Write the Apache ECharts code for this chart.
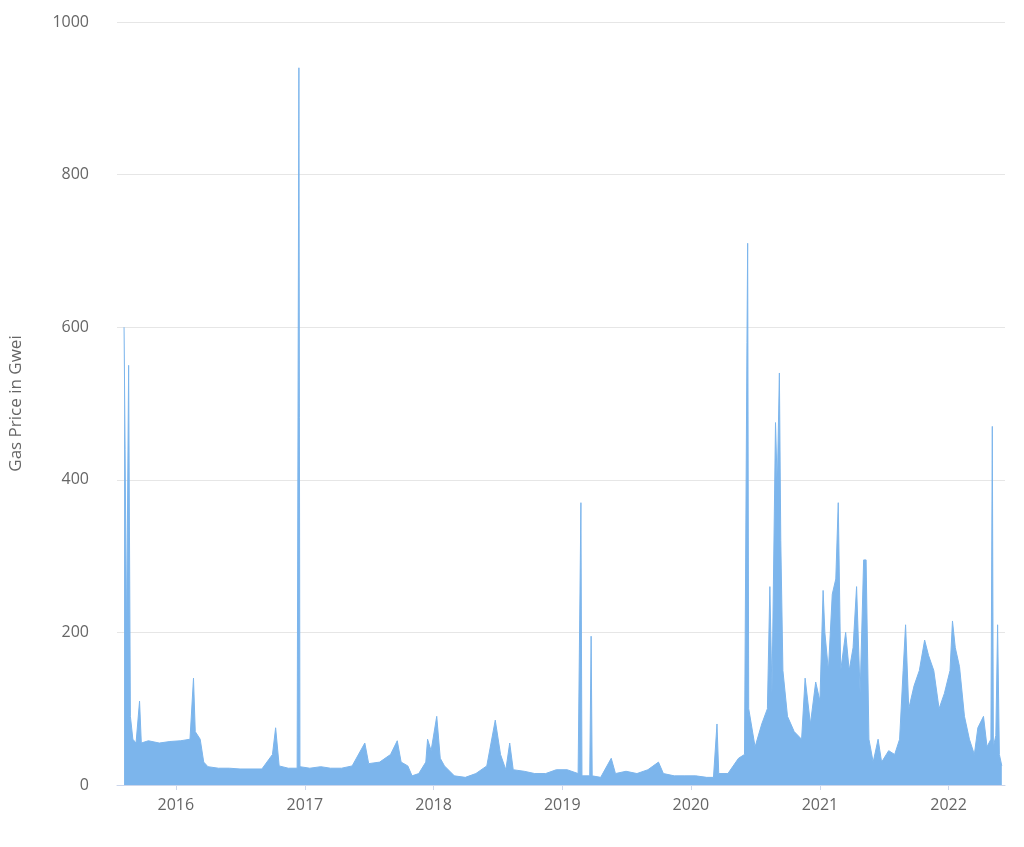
<!DOCTYPE html>
<html><head><meta charset="utf-8">
<script src="https://cdn.jsdelivr.net/npm/echarts@6/dist/echarts.min.js"></script>
<style>html,body{margin:0;background:#fff}#c{width:1024px;height:847px}</style>
</head><body><div id="c"></div>
<script>
const dates = ["2015-08-07","2015-08-10","2015-08-14","2015-08-20","2015-08-25","2015-09-01","2015-09-10","2015-09-20","2015-09-25","2015-10-15","2015-11-15","2015-12-15","2016-01-15","2016-02-10","2016-02-20","2016-02-25","2016-03-10","2016-03-20","2016-04-01","2016-05-01","2016-06-01","2016-07-01","2016-08-01","2016-09-01","2016-10-01","2016-10-10","2016-10-20","2016-11-15","2016-12-10","2016-12-15","2016-12-18","2017-01-15","2017-02-15","2017-03-15","2017-04-15","2017-05-15","2017-06-20","2017-07-01","2017-08-01","2017-09-01","2017-09-20","2017-10-01","2017-10-20","2017-11-01","2017-11-20","2017-12-10","2017-12-15","2017-12-25","2018-01-10","2018-01-20","2018-02-01","2018-03-01","2018-04-01","2018-05-01","2018-06-01","2018-06-25","2018-07-10","2018-07-25","2018-08-05","2018-08-15","2018-09-15","2018-10-15","2018-11-15","2018-12-15","2019-01-15","2019-02-15","2019-02-23","2019-02-26","2019-03-20","2019-03-24","2019-03-27","2019-04-20","2019-05-20","2019-06-01","2019-07-01","2019-08-01","2019-09-01","2019-10-01","2019-10-15","2019-11-15","2019-12-15","2020-01-15","2020-02-15","2020-03-05","2020-03-15","2020-03-20","2020-04-15","2020-05-15","2020-06-01","2020-06-08","2020-06-10","2020-06-13","2020-07-01","2020-07-20","2020-08-05","2020-08-12","2020-08-18","2020-08-28","2020-09-02","2020-09-08","2020-09-12","2020-09-18","2020-10-01","2020-10-20","2020-11-10","2020-11-20","2020-12-05","2020-12-20","2021-01-01","2021-01-10","2021-01-15","2021-01-25","2021-02-05","2021-02-15","2021-02-22","2021-03-01","2021-03-15","2021-03-25","2021-04-05","2021-04-15","2021-04-25","2021-05-05","2021-05-12","2021-05-20","2021-06-01","2021-06-15","2021-06-25","2021-07-15","2021-08-01","2021-08-15","2021-08-25","2021-09-01","2021-09-10","2021-09-25","2021-10-10","2021-10-25","2021-11-05","2021-11-20","2021-12-05","2021-12-20","2022-01-05","2022-01-12","2022-01-20","2022-02-01","2022-02-15","2022-03-01","2022-03-15","2022-03-25","2022-04-10","2022-04-20","2022-05-01","2022-05-05","2022-05-08","2022-05-15","2022-05-20","2022-05-25","2022-06-01"];
const gasPrice = [600,440,190,550,90,60,55,110,55,58,55,57,58,60,140,70,60,30,24,22,22,21,21,21,40,75,25,22,22,940,24,22,24,22,22,25,55,28,30,40,58,30,25,12,15,30,60,45,90,35,25,12,10,15,25,85,40,20,55,20,18,15,15,20,20,15,370,12,12,195,12,10,35,15,18,15,20,30,15,12,12,12,10,10,80,15,15,35,40,580,710,100,50,80,100,260,120,475,390,540,320,150,90,70,60,140,80,135,110,255,200,150,250,270,370,150,200,150,180,260,120,295,295,60,30,60,30,45,40,60,150,210,100,130,150,190,170,150,100,120,150,215,180,155,90,60,40,75,90,50,60,470,50,65,210,40,25];
const data = dates.map((d,i)=>[d,gasPrice[i]]);
const chart = echarts.init(document.getElementById('c'));
chart.setOption({
  animation:false,
  grid:{left:115,right:19,top:22,bottom:62},
  xAxis:{type:'time',min:'2015-07-18',max:'2022-06-10',
    axisLine:{lineStyle:{color:'#ccd6eb'}},axisTick:{show:true,lineStyle:{color:'#ccd6eb'}},
    splitLine:{show:false},
    axisLabel:{color:'#666',fontSize:16,fontFamily:'Open Sans',formatter:'{yyyy}',margin:12}},
  yAxis:{type:'value',min:0,max:1000,interval:200,
    name:'Gas Price in Gwei',nameLocation:'middle',nameGap:92,nameTextStyle:{color:'#666',fontSize:17,fontFamily:'Open Sans'},
    axisLabel:{color:'#666',fontSize:16,fontFamily:'Open Sans',margin:28,formatter:v=>String(v)},
    splitLine:{lineStyle:{color:'#e6e6e6'}},axisLine:{show:false},axisTick:{show:false}},
  series:[{type:'line',data:data,symbol:'none',lineStyle:{width:1,color:'#7cb5ec'},
    areaStyle:{color:'#7cb5ec',opacity:1}}]
});
</script></body></html>
